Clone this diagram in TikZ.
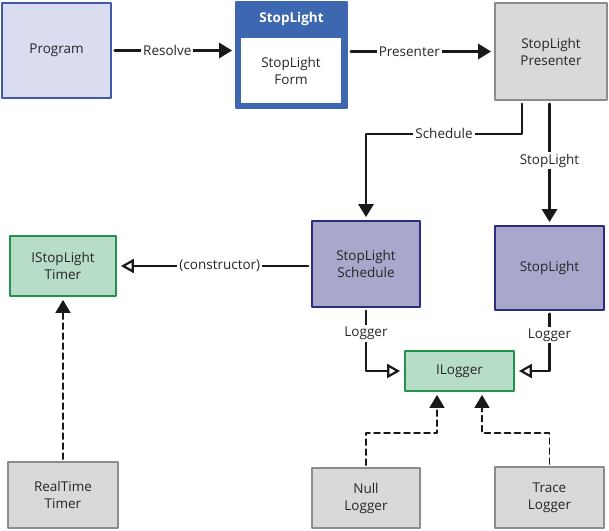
\documentclass[tikz,border=0pt]{standalone}
\usepackage{fontspec}
\setmainfont{Open Sans}
\usetikzlibrary{arrows.meta}
\definecolor{progfill}{HTML}{D9DDEF}
\definecolor{progline}{HTML}{4158A6}
\definecolor{formblue}{HTML}{3D68B1}
\definecolor{greyfill}{HTML}{D9D9D9}
\definecolor{greyline}{HTML}{8C8C8C}
\definecolor{classfill}{HTML}{A8A8CC}
\definecolor{classline}{HTML}{2B2D7E}
\definecolor{ifacefill}{HTML}{B7DCC8}
\definecolor{ifaceline}{HTML}{23924A}

\begin{document}
\begin{tikzpicture}[x=1pt,y=-1pt,line cap=round,line join=round,
  font=\fontsize{13.5}{17}\selectfont,
  box/.style={draw,line width=1.8pt,align=center,inner sep=0pt,text=black!85},
  progbox/.style={box,fill=progfill,draw=progline},
  greybox/.style={box,fill=greyfill,draw=greyline},
  classbox/.style={box,fill=classfill,draw=classline},
  ifacebox/.style={box,fill=ifacefill,draw=ifaceline},
  uses/.style={-{Triangle[length=13pt,width=15pt]},line width=2.8pt,black!90,shorten <=3pt,shorten >=3pt},
  impl/.style={-{Triangle[open,length=13pt,width=14pt,line width=2.2pt]},line width=2.8pt,black!90,shorten <=3pt,shorten >=4pt},
  realizes/.style={-{Triangle[length=13pt,width=15pt]},line width=1.6pt,black!90,dash pattern=on 6pt off 4pt,shorten <=2pt,shorten >=3pt},
  lbl/.style={fill=white,inner sep=2pt,text=black!85}]
\useasboundingbox (0,0) rectangle (609,530);
% top row
\node[progbox,minimum width=109pt,minimum height=95pt] (prog) at (56.5,50.5) {Program};
\node[box,fill=formblue,draw=formblue,minimum width=111pt,minimum height=106pt] (form) at (291.5,55) {};
\node[font=\fontsize{13.5}{17}\selectfont\bfseries,text=white] (formhead) at (291.5,19) {StopLight};
\node[box,fill=white,draw=white,line width=0pt,minimum width=99pt,minimum height=64pt] (formbody) at (291,70.5) {StopLight\\Form};
\node[greybox,minimum width=112pt,minimum height=97pt] (pres) at (551,51.5) {StopLight\\Presenter};
% middle row
\node[ifacebox,minimum width=106pt,minimum height=60pt] (timer) at (63,266) {IStopLight\\Timer};
\node[classbox,minimum width=108pt,minimum height=86pt] (sched) at (366,264) {StopLight\\Schedule};
\node[classbox,minimum width=109pt,minimum height=84pt] (light) at (549.5,268) {StopLight};
\node[ifacebox,minimum width=109pt,minimum height=40pt] (ilog) at (459.5,371) {ILogger};
% bottom row
\node[greybox,minimum width=110pt,minimum height=66pt] (rtimer) at (63,495) {RealTime\\Timer};
\node[greybox,minimum width=108pt,minimum height=60pt] (nulllog) at (366,498) {Null\\Logger};
\node[greybox,minimum width=109pt,minimum height=61pt] (tracelog) at (549.5,497.5) {Trace\\Logger};
% connectors
\draw[uses] (prog.east) -- node[lbl,pos=0.45]{Resolve} (prog.east -| form.west);
\draw[uses] (form.east |- pres.west) -- node[lbl,pos=0.42]{Presenter} (pres.west);
\draw[uses] ([xshift=-29pt]pres.south) -- ++(0,33) -| node[lbl,pos=0.25]{Schedule} (sched.north);
\draw[uses] (light.north |- pres.south) -- node[lbl,pos=0.48]{StopLight} (light.north);
\draw[impl] (sched.west |- timer.east) -- node[lbl,pos=0.47]{(constructor)} (timer.east);
\draw[realizes] (rtimer.north) -- (timer.south);
\draw[impl] (sched.south) |- node[lbl,pos=0.2]{Logger} (ilog.west);
\draw[impl] (light.south) |- node[lbl,pos=0.2]{Logger} (ilog.east);
\draw[realizes] (nulllog.north) -- ++(0,-34) -| ([xshift=-22.5pt]ilog.south);
\draw[realizes] (tracelog.north) -- ++(0,-33) -| ([xshift=22.5pt]ilog.south);
\end{tikzpicture}
\end{document}
